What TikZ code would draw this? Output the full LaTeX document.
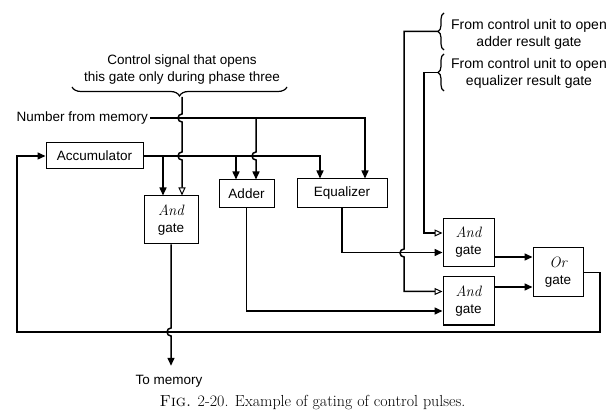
\documentclass[tikz,border=0pt]{standalone}
\usepackage{fontspec}
\setsansfont{Liberation Sans}
\usetikzlibrary{calc,arrows.meta,decorations.pathreplacing}
\newcommand{\hopdn}[1]{-- ($(#1)+(0,4)$) arc[start angle=90,end angle=270,radius=4pt]}
\newcommand{\gword}[1]{{\rmfamily\itshape\fontsize{15}{15}\selectfont #1}}
\tikzset{
  x=1pt, y=1pt,
  blk/.style = {draw, line width=1pt, align=center, inner sep=0pt, font=\sffamily\fontsize{13.5}{17}\selectfont},
  lbl/.style = {align=center, inner sep=0pt, font=\sffamily\fontsize{13.5}{17}\selectfont},
  wire/.style = {line width=1.5pt},
  dat/.style = {wire, -{Triangle[length=8pt,width=7pt]}},
  ctl/.style = {wire, -{Triangle[open,length=8pt,width=7pt,line width=1pt]}},
  brc/.style = {line width=1.2pt, decorate}
}

\begin{document}
\begin{tikzpicture}
\useasboundingbox (0,0) rectangle (612,412);

% blocks
\node [blk, minimum width=97pt, minimum height=26pt] (acc) at (94.5,256) {Accumulator};
\node [blk, minimum width=54pt, minimum height=48pt] (and1) at (171,192) {\gword{And}\\gate};
\node [blk, minimum width=55pt, minimum height=28pt] (add) at (246.5,218) {Adder};
\node [blk, minimum width=90pt, minimum height=29pt] (eq) at (342,218.5) {Equalizer};
\node [blk, minimum width=51pt, minimum height=48pt] (and2) at (468.5,169.5) {\gword{And}\\gate};
\node [blk, minimum width=51pt, minimum height=48pt] (and3) at (468.5,111) {\gword{And}\\gate};
\node [blk, minimum width=50pt, minimum height=49pt] (or) at (558,139.5) {\gword{Or}\\gate};

% labels
\node [lbl] (ctltxt) at (182,342) {Control signal that opens\\this gate only during phase three};
\node [lbl, anchor=east] (mem) at (148,294) {Number from memory};
\node [lbl, font=\sffamily\fontsize{14}{17}\selectfont] (ctladd) at (529,378) {From control unit to open\\adder result gate};
\node [lbl, font=\sffamily\fontsize{14}{17}\selectfont] (ctleq) at (529,338.5) {From control unit to open\\equalizer result gate};
\node [lbl] (tmem) at (169,31) {To memory};
\node [inner sep=0pt, font=\rmfamily\fontsize{16}{18}\selectfont] (cap) at (312.5,9)
  {\textsc{Fig.} 2-20. Example of gating of control pulses.};

% braces
\draw [brc, decoration={brace, mirror, amplitude=9pt}] (72,325) -- (287,325);
\draw [brc, decoration={brace, amplitude=6pt}] (444,362) -- (444,399);
\draw [brc, decoration={brace, amplitude=6pt}] (444,321) -- (444,358);
\coordinate (ctltip) at (182,315);
\coordinate (addtip) at (438,380.5);
\coordinate (eqtip) at (438,339.5);

% junctions and crossings
\coordinate (jm1) at (256,294);
\coordinate (jm2) at (365,294);
\coordinate (ja1) at (163,256);
\coordinate (ja2) at (236,256);
\coordinate (ja3) at (320,256);
\coordinate (hx1) at (182,294);
\coordinate (hx2) at (182,256);
\coordinate (hx3) at (256,256);
\coordinate (hx4) at (404,159);
\coordinate (hx5) at (171,80);
\coordinate (c1) at (404,380.5);
\coordinate (c2) at (424,339.5);
\coordinate (fb1) at (600,80);
\coordinate (fb2) at (17,80);
\coordinate (o2) at ([yshift=-14.5pt]and2.east);
\coordinate (o3) at ([yshift=14pt]and3.east);

% control signals
\draw [ctl] (ctltip) \hopdn{hx1} \hopdn{hx2} -- (ctltip |- and1.north);
\draw [ctl] (addtip) -- (c1) \hopdn{hx4} |- ([yshift=9.5pt]and3.west);
\draw [ctl] (eqtip) -- (c2) |- ([yshift=9.5pt]and2.west);

% number paths
\draw [dat] ($(mem.east)+(2,0)$) -- (jm2) -- (jm2 |- eq.north);
\draw [dat] (jm1) \hopdn{hx3} -- (jm1 |- add.north);
\draw [dat] (acc.east) -- (ja3) -- (ja3 |- eq.north);
\draw [dat] (ja1) -- (ja1 |- and1.north);
\draw [dat] (ja2) -- (ja2 |- add.north);
\draw [dat] (eq.south) |- ([yshift=-10pt]and2.west);
\draw [dat] (add.south) |- ([yshift=-10pt]and3.west);
\draw [dat] (o2) -- (o2 -| or.west);
\draw [dat] (o3) -- (o3 -| or.west);
\draw [dat] (or.east) -| (fb1) -- (fb2) |- (acc.west);
\draw [dat] (and1.south) \hopdn{hx5} -- ([yshift=9pt]tmem.north -| hx5);
\end{tikzpicture}
\end{document}
